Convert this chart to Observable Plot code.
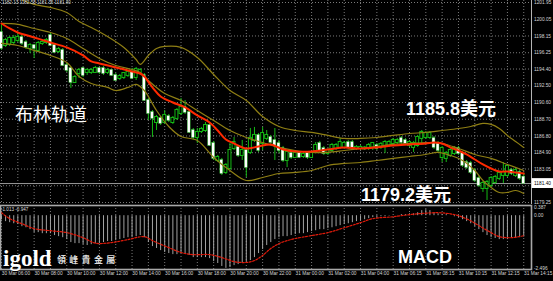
<!DOCTYPE html>
<html><head><meta charset="utf-8">
<script src="https://cdn.jsdelivr.net/npm/d3@7"></script>
<script src="https://cdn.jsdelivr.net/npm/@observablehq/plot@0.6"></script>
<style>
html,body{margin:0;background:#000;}
#wrap{position:relative;width:553px;height:281px;overflow:hidden;background:#000;}
#wrap svg{position:absolute;left:0;}
.ann{position:absolute;color:#fff;white-space:nowrap;line-height:1;}
</style></head><body><div id="wrap"></div>
<script>
// ---------- DATA (M15 bars, index 0 = 30 Mar 06:00) ----------
const open = [1198.55,1197.07,1197.19,1197.41,1197.64,1197.98,1197.41,1196.73,1197.07,1196.51,
1197.30,1197.41,1198.21,1197.07,1196.39,1196.51,1194.80,1194.46,1192.87,1193.89,
1194.46,1194.01,1194.01,1194.01,1194.46,1194.46,1194.01,1194.24,1193.67,1193.33,
1193.44,1193.67,1194.01,1193.44,1193.89,1193.67,1190.83,1189.47,1188.33,1188.79,
1188.33,1189.01,1188.33,1188.79,1189.35,1190.04,1189.47,1187.42,1186.63,1187.31,
1187.42,1187.99,1185.95,1184.02,1184.02,1182.66,1183.11,1185.38,1185.50,1184.59,
1185.15,1184.93,1186.29,1186.86,1185.95,1186.52,1186.63,1186.29,1185.95,1185.38,
1184.02,1184.81,1184.36,1184.81,1184.47,1184.81,1184.36,1185.15,1185.95,1185.38,
1184.81,1185.15,1185.38,1185.50,1185.50,1186.06,1186.06,1185.38,1185.38,1185.33,
1185.38,1185.50,1185.72,1185.50,1185.72,1185.72,1185.95,1186.06,1186.52,1186.29,
1185.72,1185.50,1185.72,1186.52,1186.63,1186.63,1186.52,1185.95,1184.36,1184.25,
1184.59,1184.81,1185.38,1184.81,1183.79,1183.68,1182.88,1181.98,1180.84,1180.84,
1181.18,1181.52,1181.98,1182.32,1182.32,1182.88,1182.32,1182.66,1182.13];
const high = [1199.57,1197.87,1198.09,1198.21,1198.43,1198.21,1197.64,1197.30,1197.19,1197.53,
1197.64,1197.87,1198.43,1197.19,1196.85,1196.73,1195.03,1194.58,1193.67,1194.46,
1194.58,1194.46,1194.46,1194.69,1194.58,1194.69,1194.46,1194.35,1193.89,1193.78,
1194.01,1194.24,1194.46,1194.58,1194.46,1193.89,1191.06,1189.69,1189.13,1189.01,
1189.69,1189.24,1189.01,1189.92,1191.06,1190.83,1189.69,1187.65,1187.65,1187.77,
1188.33,1188.22,1186.18,1184.59,1184.25,1183.68,1185.95,1186.63,1185.72,1186.29,
1185.38,1187.65,1187.77,1187.08,1187.77,1187.42,1186.86,1187.65,1186.29,1185.61,
1185.15,1185.04,1185.04,1185.04,1184.93,1185.04,1185.04,1186.06,1186.18,1185.61,
1185.38,1185.95,1185.95,1186.52,1186.18,1186.29,1186.29,1185.72,1185.72,1185.61,
1185.95,1186.06,1185.95,1186.06,1186.29,1186.29,1186.52,1186.52,1186.74,1186.52,
1186.29,1186.18,1186.86,1187.42,1187.31,1187.31,1186.74,1186.18,1185.61,1185.04,
1185.38,1185.61,1185.61,1185.04,1184.02,1183.91,1183.11,1182.20,1181.64,1181.75,
1182.20,1182.32,1182.77,1183.79,1183.57,1183.11,1183.11,1182.88,1182.58];
const low = [1196.51,1196.85,1196.96,1197.19,1197.41,1197.07,1196.62,1196.16,1195.60,1196.28,
1197.07,1197.19,1196.96,1196.16,1196.16,1194.69,1194.01,1192.19,1192.76,1193.33,
1193.44,1193.67,1193.78,1193.89,1193.78,1193.67,1193.78,1193.55,1192.99,1193.10,
1193.21,1193.44,1193.21,1193.10,1193.67,1190.72,1188.56,1186.63,1187.42,1187.99,
1188.11,1188.33,1188.11,1188.56,1189.13,1189.24,1187.08,1186.40,1185.95,1187.08,
1187.20,1185.61,1184.02,1183.79,1182.32,1182.43,1182.88,1185.15,1184.36,1184.02,
1182.09,1184.70,1186.06,1184.93,1185.15,1186.29,1185.84,1184.02,1184.81,1183.79,
1183.22,1184.13,1184.25,1184.25,1184.25,1184.13,1184.25,1184.93,1184.93,1184.59,
1184.59,1184.93,1185.15,1185.27,1185.27,1185.27,1185.27,1185.15,1185.15,1185.15,
1185.15,1185.15,1185.15,1185.27,1184.81,1185.50,1185.72,1185.84,1185.84,1185.72,
1185.50,1184.93,1185.50,1185.72,1186.40,1186.40,1185.27,1184.93,1183.79,1183.79,
1184.36,1184.59,1184.59,1183.22,1183.00,1182.43,1181.52,1180.95,1180.39,1179.48,
1180.95,1181.30,1181.75,1181.41,1182.09,1182.32,1182.09,1181.75,1181.35];
const close = [1196.73,1197.64,1197.87,1197.87,1197.98,1197.30,1196.85,1197.07,1196.73,1197.30,
1197.41,1197.64,1197.07,1196.28,1196.62,1194.80,1194.24,1192.87,1193.44,1194.24,
1193.67,1194.24,1194.24,1194.46,1194.01,1193.89,1194.24,1193.67,1193.10,1193.55,
1193.89,1194.01,1193.33,1194.35,1194.24,1190.83,1189.35,1188.79,1188.90,1188.22,
1189.13,1188.56,1188.79,1189.69,1190.04,1189.47,1187.20,1186.63,1187.20,1187.54,
1187.99,1185.72,1184.25,1184.36,1182.54,1183.45,1185.15,1186.06,1184.59,1185.15,
1183.22,1186.52,1186.86,1185.15,1187.08,1186.86,1186.06,1185.72,1185.15,1184.02,
1184.93,1184.36,1184.81,1184.36,1184.70,1184.36,1184.81,1185.72,1185.15,1184.81,
1185.15,1185.72,1185.72,1186.06,1185.95,1185.50,1185.50,1185.50,1185.50,1185.44,
1185.72,1185.95,1185.38,1185.84,1186.06,1186.06,1186.29,1186.29,1186.06,1185.95,
1186.06,1185.95,1186.63,1187.20,1187.08,1187.08,1185.50,1185.15,1185.38,1184.81,
1185.15,1185.38,1184.81,1183.45,1183.22,1182.66,1181.75,1181.18,1181.41,1181.52,
1181.98,1182.09,1182.54,1182.66,1183.34,1182.54,1182.88,1181.98,1181.40];

// Bollinger bands and moving average, read at sample bars
const upperIdx = [0,4,8,12,16,19,22,26,30,33,34,36,38,40,44,48,52,56,60,64,68,72,76,80,84,88,92,96,100,104,108,112,115,118,120,122,124,126,128];
const upperVal = [1202.86,1202.41,1201.73,1201.39,1200.82,1199.80,1199.12,1198.09,1196.85,1195.48,1194.92,1195.94,1196.73,1196.96,1196.85,1195.71,1193.78,1191.96,1190.83,1189.01,1187.88,1187.42,1187.20,1186.86,1186.52,1186.52,1186.63,1186.86,1187.08,1187.20,1187.42,1187.65,1187.88,1188.22,1188.11,1187.65,1186.86,1186.18,1185.50];
const middleIdx = [0,4,8,12,16,20,24,28,32,34,36,40,44,48,52,56,60,64,68,72,76,80,84,88,92,96,100,104,108,112,116,120,124,128];
const middleVal = [1199.57,1199.46,1199.00,1198.55,1197.87,1196.73,1195.60,1194.80,1194.35,1194.01,1193.10,1191.62,1190.83,1189.69,1188.56,1187.42,1186.63,1186.06,1185.50,1185.15,1184.93,1184.93,1185.15,1185.38,1185.61,1185.84,1185.95,1186.06,1185.95,1185.38,1184.70,1184.25,1183.57,1182.88];
const lowerIdx = [0,4,8,12,16,19,22,26,28,31,33,35,38,41,44,48,52,56,60,64,68,72,76,80,84,88,92,96,100,104,107,110,113,116,118,120,122,124,126,128];
const lowerVal = [1197.30,1197.07,1196.51,1195.94,1195.14,1193.55,1192.76,1192.31,1191.96,1192.31,1192.65,1191.96,1189.69,1187.88,1186.74,1186.29,1184.36,1182.88,1181.75,1182.09,1182.54,1182.66,1182.88,1183.45,1183.68,1183.79,1184.02,1184.25,1184.47,1184.70,1184.93,1184.59,1184.02,1182.88,1181.75,1180.95,1180.39,1180.39,1180.61,1180.27];
const maIdx = [0,2,4,8,12,16,20,22,24,28,32,34,35,37,39,42,45,48,51,53,55,57,60,63,66,69,72,76,80,84,88,92,96,100,104,106,108,110,112,114,116,118,120,122,124,126,128];
const maVal = [1199.57,1199.00,1198.55,1197.98,1197.41,1196.85,1195.94,1195.26,1195.03,1194.58,1194.12,1193.89,1193.55,1192.31,1191.28,1190.60,1190.04,1189.13,1188.33,1187.42,1186.40,1185.95,1185.38,1185.61,1185.84,1185.27,1185.04,1185.04,1185.27,1185.50,1185.38,1185.50,1185.72,1185.84,1185.95,1186.06,1185.95,1185.50,1185.15,1184.70,1184.13,1183.57,1183.11,1182.77,1182.77,1182.66,1182.54];

// MACD main (histogram) per bar, signal at sample bars
const macd = [-0.19,-0.28,-0.33,-0.38,-0.42,-0.52,-0.57,-0.66,-0.80,-0.80,
-0.85,-0.85,-0.85,-0.94,-0.99,-1.04,-1.13,-1.27,-1.32,-1.32,
-1.37,-1.41,-1.37,-1.32,-1.32,-1.27,-1.22,-1.22,-1.18,-1.13,
-1.08,-1.04,-1.04,-0.99,-0.94,-1.04,-1.27,-1.46,-1.55,-1.65,
-1.74,-1.79,-1.84,-1.84,-1.79,-1.79,-1.88,-1.98,-1.98,-1.98,
-1.98,-2.03,-2.17,-2.26,-2.40,-2.49,-2.45,-2.36,-2.31,-2.26,
-2.21,-2.12,-1.98,-1.79,-1.60,-1.41,-1.27,-1.13,-1.04,-0.99,
-0.99,-0.94,-0.89,-0.85,-0.85,-0.80,-0.75,-0.71,-0.66,-0.66,
-0.61,-0.57,-0.52,-0.47,-0.42,-0.38,-0.33,-0.28,-0.24,-0.19,
-0.14,-0.09,-0.09,-0.05,-0.05,-0.02,0.00,0.01,0.05,0.05,
0.09,0.09,0.14,0.24,0.28,0.24,0.14,0.09,0.05,0.05,
0.00,-0.05,-0.09,-0.19,-0.28,-0.38,-0.52,-0.66,-0.80,-0.94,
-1.04,-1.08,-1.13,-1.13,-1.13,-1.08,-1.08,-1.04,-1.01];
const sigIdx = [0,2,5,8,12,16,20,23,27,31,35,37,41,44,47,51,54,57,60,62,64,66,68,70,72,76,80,84,88,91,96,100,104,107,110,112,115,117,120,122,125,128];
const sigVal = [0.14,-0.14,-0.38,-0.61,-0.71,-0.80,-1.04,-1.30,-1.27,-1.13,-0.99,-1.18,-1.51,-1.74,-1.84,-1.84,-1.98,-2.17,-2.21,-2.12,-1.88,-1.55,-1.32,-1.18,-1.08,-0.94,-0.80,-0.57,-0.33,-0.14,-0.05,0.05,0.12,0.14,0.09,0.00,-0.24,-0.47,-0.80,-0.99,-1.04,-0.947];

// axis labels
const priceTicks = [1201.95,1200.05,1198.15,1196.25,1194.40,1192.50,1190.60,1188.70,1186.80,1184.90,1183.05,1181.15,1179.25];
const bidPrice = 1181.40;
const macdTicks = [0.387,0.00,-2.496];
const macdTickLabels = ["0.387","0.00","-2.496"];
const timeIdx = [0,8,16,24,32,40,48,56,64,72,80,88,96,104,112,120,128];
const timeLabels = ["30 Mar 06:00","30 Mar 08:00","30 Mar 10:00","30 Mar 12:00","30 Mar 14:00","30 Mar 16:00","30 Mar 18:00","30 Mar 20:00","30 Mar 22:00","31 Mar 00:00","31 Mar 02:00","31 Mar 04:00","31 Mar 06:15","31 Mar 08:15","31 Mar 10:15","31 Mar 12:15","31 Mar 14:15"];
const headerText = "1182.13 1182.58 1181.35 1181.40";
const macdHeader = "-1.013 -0.947";

// ---------- CHART ----------
const GREEN = "#14b814", OLIVE = "#8f7f14", RED = "#ff2a00", GRID = "#7a7a7a", LABEL = "#d4d4d4";
const bars = d3.range(close.length).map(i => ({i, o: open[i], h: high[i], l: low[i], c: close[i], m: macd[i]}));
const pts = (idx, val) => idx.map((i, k) => ({i, v: val[k]}));
const xDomain = [-0.245, 129.9];
const gridIdx = d3.range(0, 129, 4);
const FONT = "Liberation Sans, Arial, sans-serif";
const FS = 4.8;

const pricePlot = Plot.plot({
  width: 553, height: 204, marginTop: 0, marginBottom: 0, marginLeft: 0, marginRight: 22,
  x: {domain: xDomain, axis: null},
  y: {domain: [1179.25, 1201.95], range: [202, 2], axis: null},
  style: {background: "transparent", fontFamily: FONT},
  marks: [
    Plot.ruleY(priceTicks, {stroke: GRID, strokeDasharray: "1,2", strokeWidth: 1}),
    Plot.ruleX(gridIdx, {stroke: GRID, strokeDasharray: "1,2", strokeWidth: 1}),
    Plot.ruleY([bidPrice], {stroke: "#9a9a9a", strokeWidth: 1}),
    Plot.ruleX(bars, {x: "i", y1: "l", y2: "h", stroke: GREEN, strokeWidth: 1}),
    Plot.rect(bars, {filter: d => d.c >= d.o, x1: d => d.i - 0.36, x2: d => d.i + 0.36, y1: "o", y2: "c",
      fill: "#000", stroke: GREEN, strokeWidth: 1, insetTop: -0.5, insetBottom: -0.5}),
    Plot.rect(bars, {filter: d => d.c < d.o, x1: d => d.i - 0.36, x2: d => d.i + 0.36, y1: "o", y2: "c",
      fill: "#ffffff", stroke: GREEN, strokeWidth: 0.4, insetTop: -0.5, insetBottom: -0.5}),
    Plot.line(pts(upperIdx, upperVal), {x: "i", y: "v", curve: "catmull-rom", stroke: OLIVE, strokeWidth: 1.2}),
    Plot.line(pts(middleIdx, middleVal), {x: "i", y: "v", curve: "catmull-rom", stroke: OLIVE, strokeWidth: 1.2}),
    Plot.line(pts(lowerIdx, lowerVal), {x: "i", y: "v", curve: "catmull-rom", stroke: OLIVE, strokeWidth: 1.2}),
    Plot.line(pts(maIdx, maVal), {x: "i", y: "v", curve: "catmull-rom", stroke: RED, strokeWidth: 2}),
    Plot.ruleX([xDomain[1]], {stroke: "#b4b4b4", strokeWidth: 1}),
    Plot.text(priceTicks, {x: xDomain[1], y: d => d, text: d => d.toFixed(2), dx: 2.5, textAnchor: "start",
      fill: LABEL, fontSize: FS}),
    Plot.rect([bidPrice], {x1: xDomain[1] + 0.15, x2: xDomain[1] + 8, y1: d => d - 0.56, y2: d => d + 0.56, fill: "#ffffff"}),
    Plot.text([bidPrice], {x: xDomain[1], y: d => d, text: d => d.toFixed(2), dx: 2.5, textAnchor: "start",
      fill: "#000", fontSize: FS})
  ]
});

const timeTicks = timeIdx.map((i, k) => ({i, label: timeLabels[k]}));
const macdPlot = Plot.plot({
  width: 553, height: 77, marginTop: 1, marginBottom: 12, marginLeft: 0, marginRight: 22,
  x: {domain: xDomain, axis: null},
  y: {domain: [-2.496, 0.387], range: [64, 3], axis: null},
  style: {background: "transparent", fontFamily: FONT},
  marks: [
    Plot.ruleX(gridIdx, {stroke: GRID, strokeDasharray: "1,2", strokeWidth: 1}),
    Plot.ruleX(bars, {x: "i", y1: 0, y2: "m", stroke: "#a2a2a2", strokeWidth: 1}),
    Plot.line(pts(sigIdx, sigVal), {x: "i", y: "v", curve: "catmull-rom", stroke: "#e01a0a", strokeWidth: 1.2, strokeDasharray: "2,1.5"}),
    Plot.frame({stroke: "#a8a8a8", strokeWidth: 1.6}),
    Plot.text(macdTicks, {x: xDomain[1], y: d => d, text: (d, k) => macdTickLabels[k], dx: 2.5, textAnchor: "start",
      fill: LABEL, fontSize: FS}),
    Plot.text(timeTicks, {x: "i", frameAnchor: "bottom", dy: 5.5, dx: 0.3, text: "label", textAnchor: "start",
      fill: LABEL, fontSize: FS})
  ]
});

const wrap = document.getElementById("wrap");
pricePlot.style.top = "0px";
macdPlot.style.top = "204px";
wrap.appendChild(pricePlot);
wrap.appendChild(macdPlot);

function ann(text, css) {
  const d = document.createElement("div");
  d.className = "ann";
  d.textContent = text;
  Object.assign(d.style, css);
  wrap.appendChild(d);
  return d;
}
ann(headerText, {left: "2px", top: "1px", fontSize: "4.6px", color: "#dcdcdc", fontFamily: FONT});
ann(macdHeader, {left: "1px", top: "208px", fontSize: "4.6px", color: "#dcdcdc", fontFamily: FONT});
ann("布林轨道", {left: "15px", top: "103.5px", fontSize: "18px", fontFamily: "'Noto Sans CJK SC', sans-serif", fontWeight: "400"});
ann("1185.8美元", {left: "406px", top: "100px", fontSize: "18px", fontFamily: "'Liberation Sans', 'Noto Sans CJK SC', sans-serif", fontWeight: "700"});
ann("1179.2美元", {left: "361px", top: "186px", fontSize: "18px", fontFamily: "'Liberation Sans', 'Noto Sans CJK SC', sans-serif", fontWeight: "700"});
ann("MACD", {left: "398px", top: "248px", fontSize: "18px", fontFamily: "'Liberation Sans', sans-serif", fontWeight: "700"});
ann("igold", {left: "3px", top: "246.5px", fontSize: "23px", fontFamily: "'Liberation Serif', 'DejaVu Serif', serif", fontWeight: "700"});
ann("領峰貴金屬", {left: "57px", top: "254.5px", fontSize: "9px", letterSpacing: "3.3px", color: "#dddddd", fontFamily: "'Noto Sans CJK TC', sans-serif", fontWeight: "700"});
</script>
</body></html>
